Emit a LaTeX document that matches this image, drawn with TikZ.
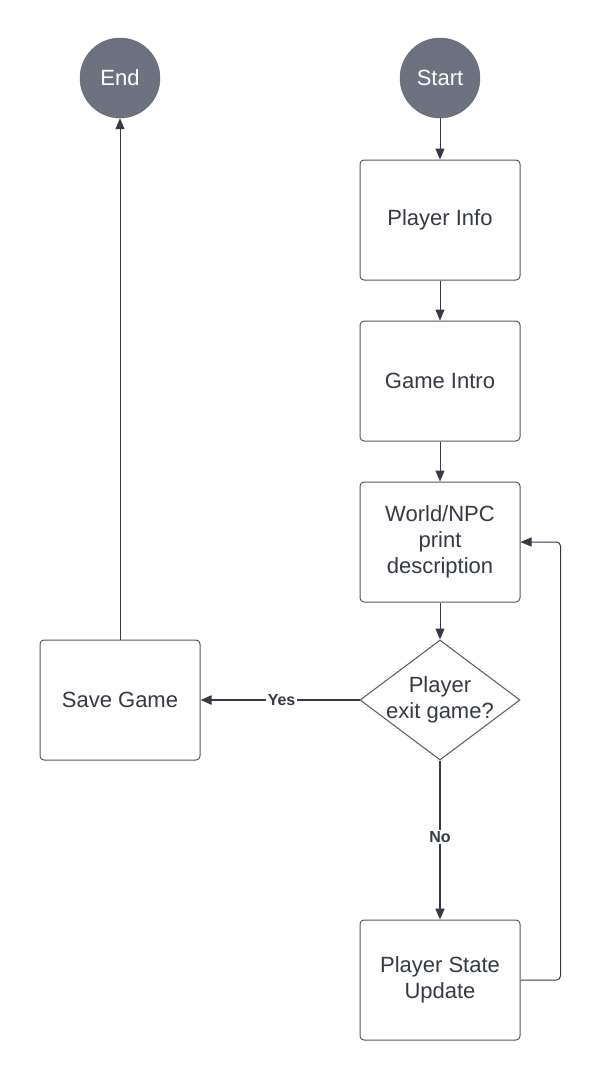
\documentclass[tikz,border=0pt]{standalone}
\usepackage{fontspec}
\setmainfont{Liberation Sans}
\usetikzlibrary{arrows.meta, positioning, shapes.geometric}
\definecolor{trait}{RGB}{52,57,67}
\definecolor{gris}{RGB}{108,114,128}

\begin{document}
\begin{tikzpicture}[x=1pt, y=-1pt,
  etape/.style={draw=trait!85, line width=1pt, rounded corners=4pt, minimum width=160pt,
    minimum height=120pt, align=center, text=trait, font=\fontsize{22}{26}\selectfont},
  rond/.style={circle, draw=trait!80, fill=gris, minimum size=80pt, inner sep=0pt,
    text=white, font=\fontsize{22}{26}\selectfont},
  fleche/.style={draw=trait, line width=1pt, -{Triangle[length=11pt, width=9pt]}},
  grosse/.style={fleche, line width=2pt},
  choix/.style={fill=white, inner sep=1.5pt, text=trait, font=\bfseries\fontsize{16}{18}\selectfont}]
				\useasboundingbox[fill=white] (0,0) rectangle (601,1080);
				% colonne principale
				\node[rond] (start) at (440,78) {Start};
				\node[etape] (info) at (440,220) {Player Info};
				\node[etape, below=40pt of info] (intro) {Game Intro};
				\node[etape, below=40pt of intro] (world) {World/NPC\\print\\description};
				\node[diamond, draw=trait!85, line width=1pt, minimum width=160pt, minimum height=120pt,
				  inner sep=0pt] (exit) at (440,700) {};
				\node[align=center, text=trait, font=\fontsize{22}{26}\selectfont] (exittxt) at (exit) {Player\\exit game?};
				\node[etape] (update) at (440,980) {Player State\\Update};
				% colonne de gauche
				\node[etape] (save) at (120,700) {Save Game};
				\node[rond] (end) at (120,78) {End};
				% fleches
				\draw[fleche] (start) -- (info);
				\draw[fleche] (info) -- (intro);
				\draw[fleche] (intro) -- (world);
				\draw[fleche] (world) -- (exit);
				\draw[grosse] (exit.west) -- node[choix, pos=0.49] (yes) {Yes} (save.east);
				\draw[grosse] (exit.south) -- node[choix, pos=0.48] (no) {No} (update.north);
				\draw[fleche, rounded corners=4pt] (update.east) -- ++(40,0) |- (world.east);
				\draw[fleche] (save.north) -- (end.south);
			\end{tikzpicture}
\end{document}
